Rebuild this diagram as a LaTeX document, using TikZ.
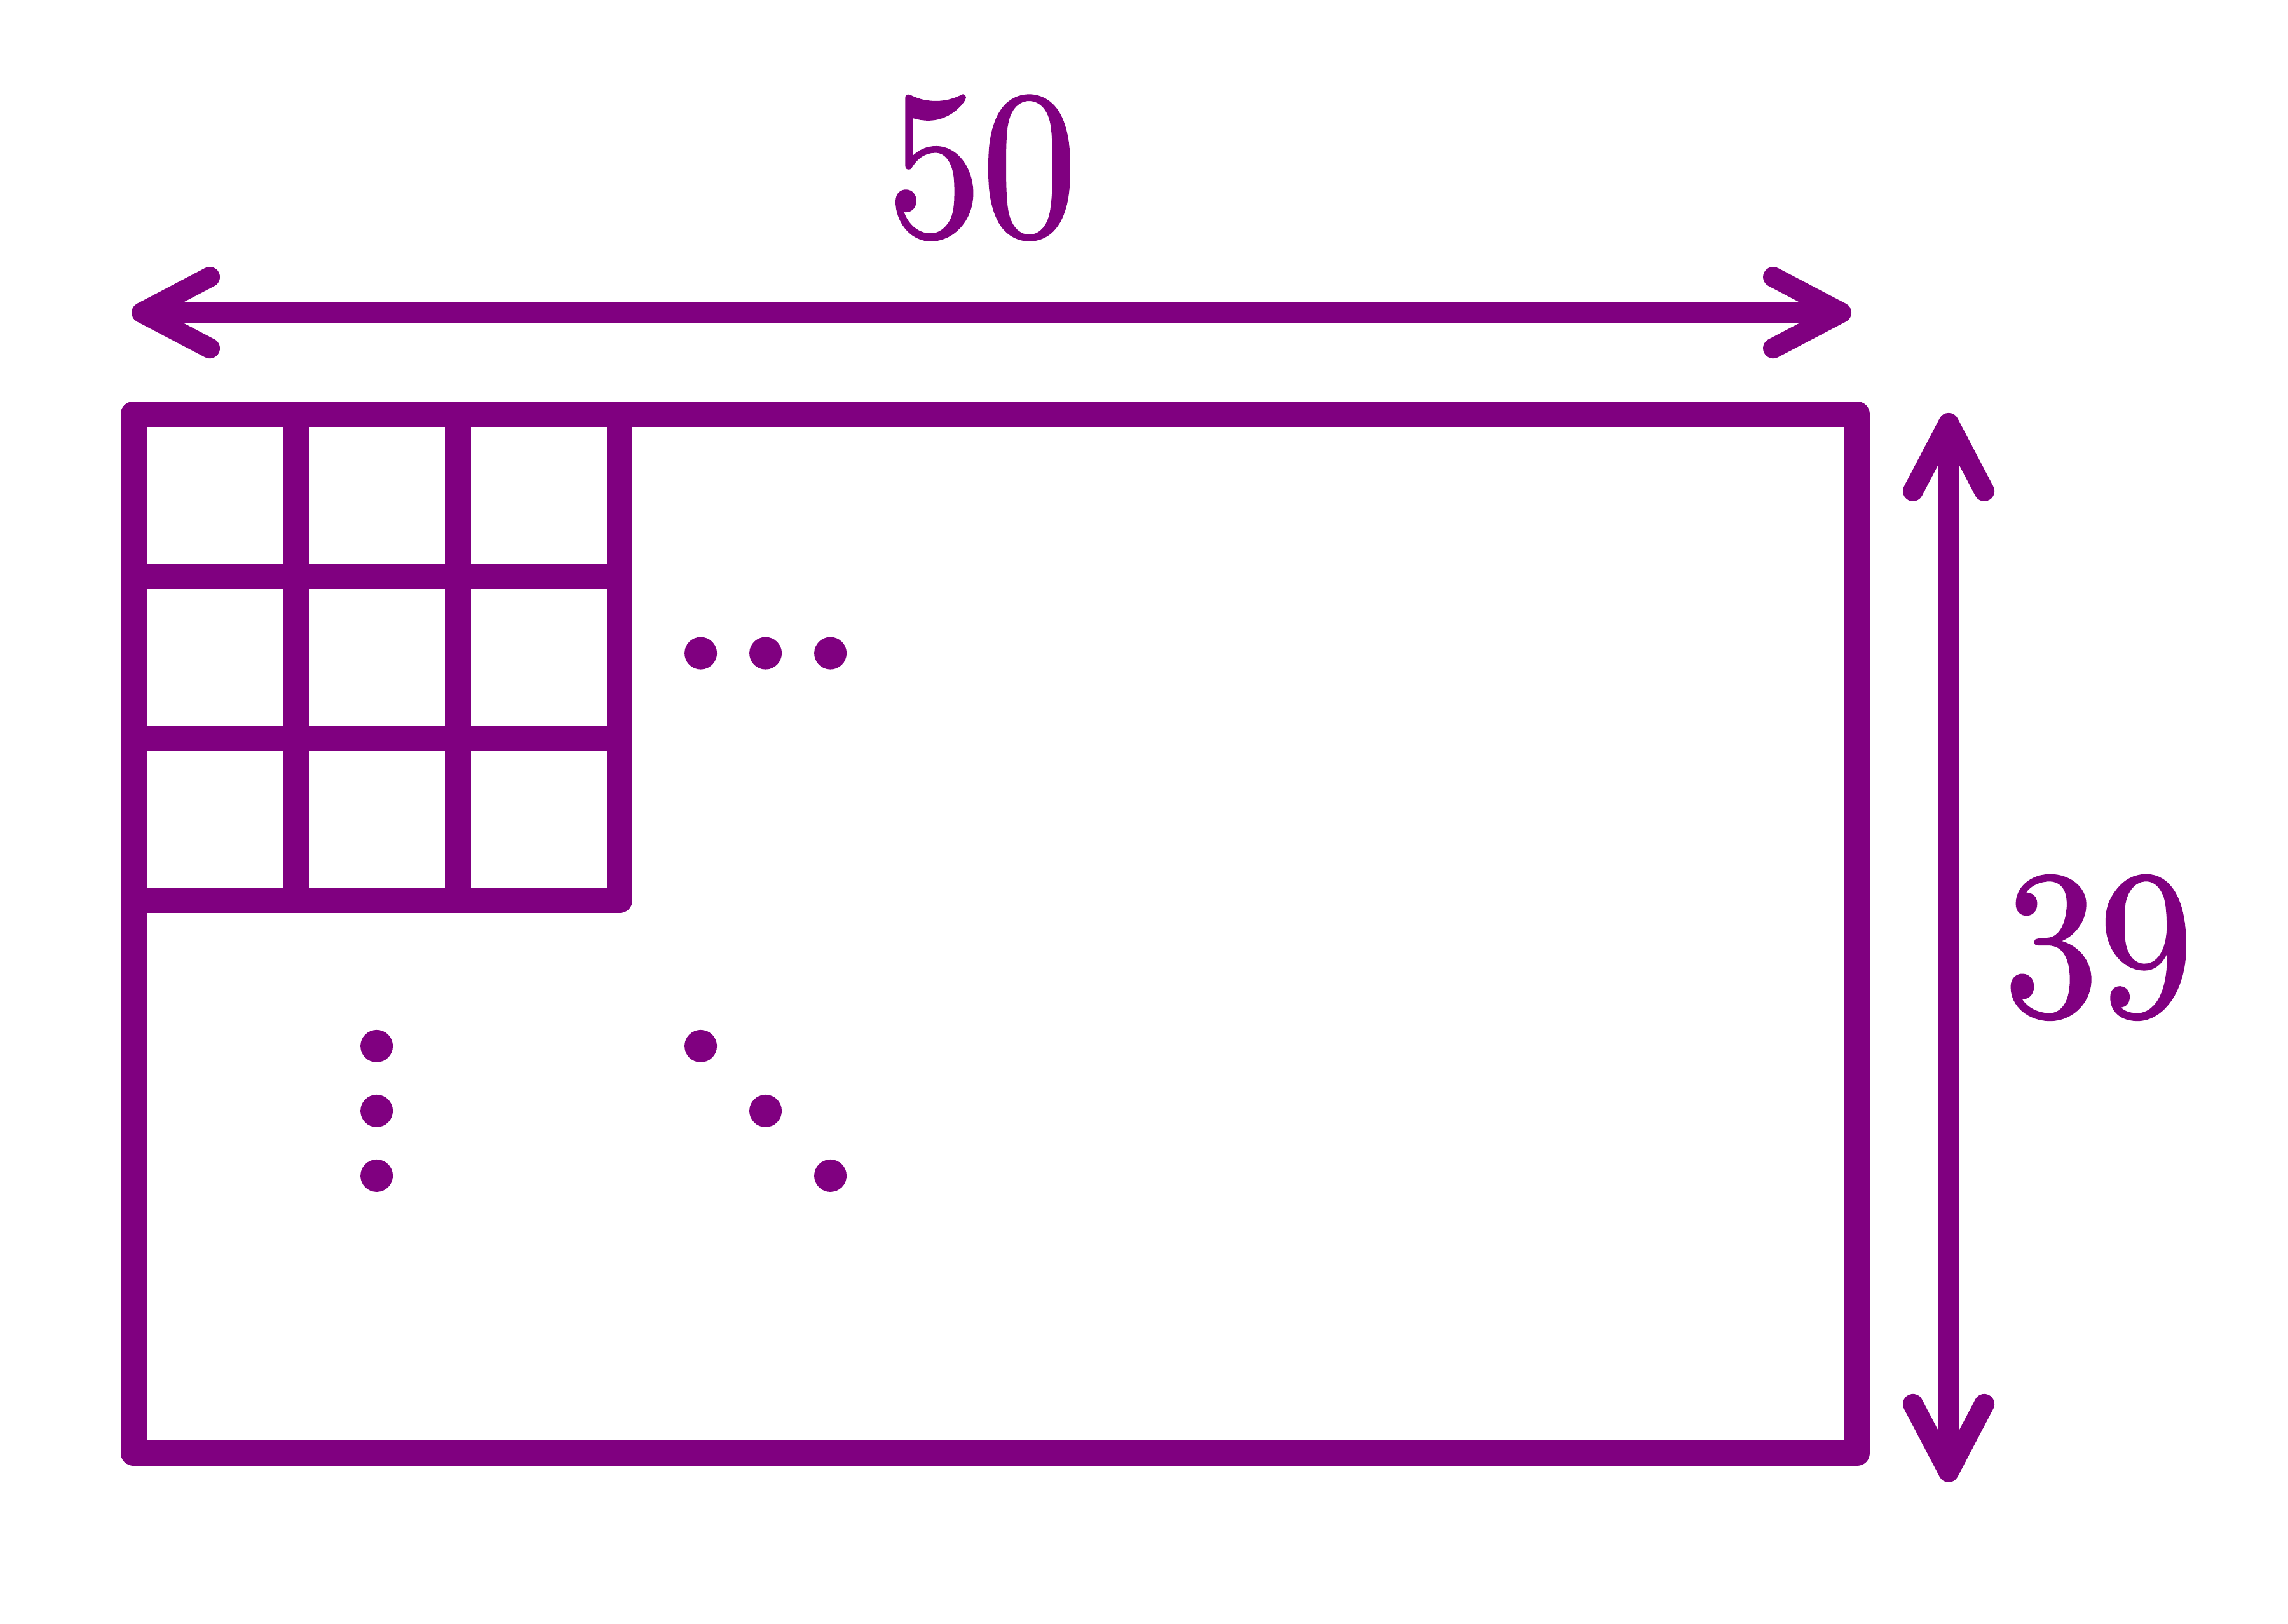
\documentclass[tikz,border=0pt]{standalone}
\usepackage{fontspec}
\usetikzlibrary{arrows.meta}
\definecolor{boardpurple}{HTML}{800080}
\newfontfamily\numfont{lmroman10-regular.otf}[FakeStretch=0.9, FakeBold=1]

\begin{document}
\begin{tikzpicture}[
    edge/.style={line width=0.16cm, line join=round, boardpurple},
    barb/.tip={Straight Barb[length=0.42cm, width=0.44cm, line cap=round, line join=round]},
    dim/.style={line width=0.125cm, boardpurple, barb-barb},
    lbl/.style={text=boardpurple, inner sep=0pt, font={\fontsize{37}{44}\numfont}},
    dot/.style={fill=boardpurple}]
  \useasboundingbox (-0.824,-7.467) rectangle (13.294,2.557);

  % board with the first cells
  \draw[edge] (0,0) rectangle (10.635,-6.412);
  \draw[edge] (0,-3) grid (3,0);
  \draw[edge] (0,-3) rectangle (3,0);

  \foreach \x in {3.5,3.9,4.3} {
    \fill[dot] (\x,-1.475) circle [radius=0.1cm];
  }
  \foreach \y in {-3.9,-4.3,-4.7} {
    \fill[dot] (1.5,\y) circle [radius=0.1cm];
  }
  \foreach \x/\y in {3.5/-3.9,3.9/-4.3,4.3/-4.7} {
    \fill[dot] (\x,\y) circle [radius=0.1cm];
  }

  % dimensions
  \coordinate (wl) at (-0.012,0.627);
  \coordinate (wr) at (10.6,0.627);
  \coordinate (ht) at (11.2,0.008);
  \coordinate (hb) at (11.2,-6.592);
  \draw[dim] (wl) -- (wr);
  \draw[dim] (ht) -- (hb);

  \node[lbl] (width) at (5.235,1.521) {50};
  \node[lbl] (height) at (12.125,-3.292) {39};
\end{tikzpicture}
\end{document}
